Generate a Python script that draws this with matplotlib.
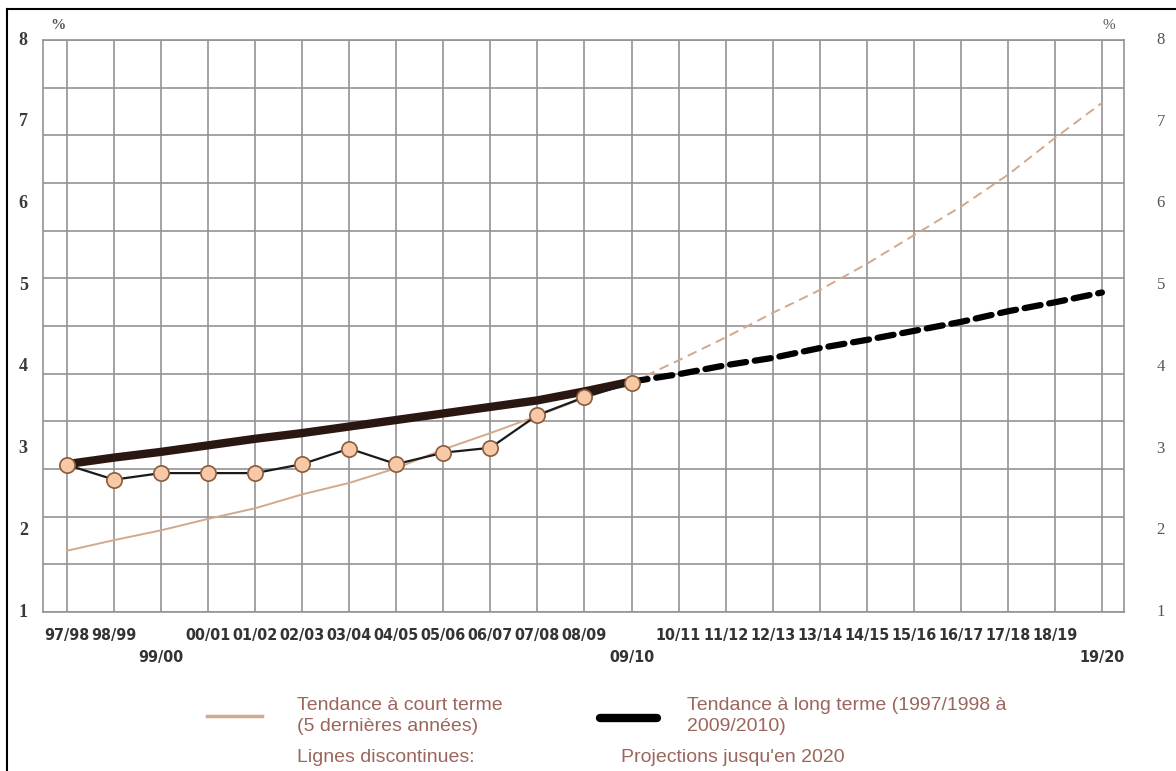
import matplotlib.pyplot as plt
import numpy as np
from matplotlib.lines import Line2D

# Data
years = ["97/98", "98/99", "99/00", "00/01", "01/02", "02/03", "03/04", "04/05",
         "05/06", "06/07", "07/08", "08/09", "09/10", "10/11", "11/12", "12/13",
         "13/14", "14/15", "15/16", "16/17", "17/18", "18/19", "19/20"]
lowered = ["99/00", "09/10", "19/20"]

observed = [2.80, 2.62, 2.70, 2.70, 2.70, 2.81, 3.00, 2.81, 2.95, 3.01, 3.41, 3.63, 3.80]

short_hist = [1.75, 1.88, 2.00, 2.14, 2.27, 2.44, 2.58, 2.76, 2.99, 3.19, 3.40, 3.62, 3.81]
short_proj = [3.81, 4.08, 4.36, 4.66, 4.94, 5.26, 5.61, 5.96, 6.35, 6.80, 7.23]

long_hist = [2.81, 2.89, 2.96, 3.04, 3.12, 3.19, 3.27, 3.35, 3.43, 3.51, 3.59, 3.70, 3.82]
long_proj = [3.82, 3.91, 4.02, 4.11, 4.23, 4.33, 4.44, 4.55, 4.68, 4.79, 4.91]

y_labels = [1, 2, 3, 4, 5, 6, 7, 8]

# colours
grid_col = "#959292"
tan = "#d2a98c"
dark = "#2b1712"
text_col = "#9c665c"
lab_col = "#333333"
narrow = ["DejaVu Sans Condensed", "DejaVu Sans"]

fig = plt.figure(figsize=(11.76, 7.71), dpi=100)
ax = fig.add_axes([0.0366, 0.2062, 0.9192, 0.7419])

x_hist = np.arange(len(observed))
x_proj = np.arange(len(observed) - 1, len(years))

ax.set_xlim(-0.51, 22.47)
ax.set_ylim(1, 8)

# square grid: lines at every category and 12 rows between 1 and 8
for xv in range(len(years)):
    ax.axvline(xv, color=grid_col, lw=1.2, zorder=1)
for yv in np.linspace(1, 8, 13):
    ax.axhline(yv, color=grid_col, lw=1.2, zorder=1)
for s in ax.spines.values():
    s.set_color(grid_col)
    s.set_linewidth(1.2)

# short term trend
ax.plot(x_hist, short_hist, color=tan, lw=1.4, zorder=2)
ax.plot(x_proj, short_proj, color=tan, lw=1.4, dashes=(5, 3), zorder=2)

# long term trend
ax.plot(x_hist, long_hist, color=dark, lw=6, solid_capstyle="round", zorder=3)
ax.plot(x_proj, long_proj, color="black", lw=4.5, dashes=(2.6, 1.4),
        dash_capstyle="round", zorder=3)

# observed values
ax.plot(x_hist, observed, color="#1a1a1a", lw=1.6, marker="o", markersize=11,
        markerfacecolor="#f8c9a6", markeredgecolor="#8a5a3c", markeredgewidth=1.2,
        zorder=4)

ax.set_xticks([])
ax.set_yticks([])

# x labels, some lowered
for i, lab in enumerate(years):
    yy = -0.47 if lab in lowered else -0.19
    ax.text(i, 1 + yy, lab, ha="center", va="top", fontsize=11.5, fontweight="bold",
            family=narrow, fontstretch="condensed", color=lab_col, clip_on=False)

# y labels both sides
for v in y_labels:
    ax.text(-0.93, v, str(v), ha="center", va="center", fontsize=13, fontweight="bold",
            family=["Liberation Serif", "DejaVu Serif"], color="#3a3a3a", clip_on=False)
    ax.text(23.25, v, str(v), ha="center", va="center", fontsize=12,
            family=["Liberation Serif", "DejaVu Serif"], color="#555555", clip_on=False)
ax.text(-0.2, 8.18, "%", ha="center", va="center", fontsize=11, fontweight="bold",
        family=["Liberation Serif", "DejaVu Serif"], color="#555555", clip_on=False)
ax.text(22.15, 8.18, "%", ha="center", va="center", fontsize=11,
        family=["Liberation Serif", "DejaVu Serif"], color="#555555", clip_on=False)

# legend drawn by hand at the bottom
fig.add_artist(Line2D([207 / 1176, 262 / 1176], [1 - 716 / 771] * 2, color=tan, lw=2.5))
fig.add_artist(Line2D([600 / 1176, 657 / 1176], [1 - 718 / 771] * 2, color="black", lw=6,
                      solid_capstyle="round"))
leg_font = dict(fontsize=14, family=["Liberation Sans", "DejaVu Sans"], color=text_col,
                va="center", ha="left", linespacing=1.3)
fig.text(297 / 1176, 1 - 716 / 771, "Tendance à court terme\n(5 dernières années)", **leg_font)
fig.text(687 / 1176, 1 - 716 / 771, "Tendance à long terme (1997/1998 à\n2009/2010)", **leg_font)
fig.text(297 / 1176, 1 - 758 / 771, "Lignes discontinues:", **leg_font)
fig.text(621 / 1176, 1 - 758 / 771, "Projections jusqu'en 2020", **leg_font)

# frame lines at top and left of the picture
fig.add_artist(Line2D([7 / 1176, 1], [1 - 9 / 771] * 2, color="black", lw=1.5))
fig.add_artist(Line2D([7 / 1176] * 2, [0, 1 - 9 / 771], color="black", lw=1.5))

fig.savefig("out.png", dpi=100)
